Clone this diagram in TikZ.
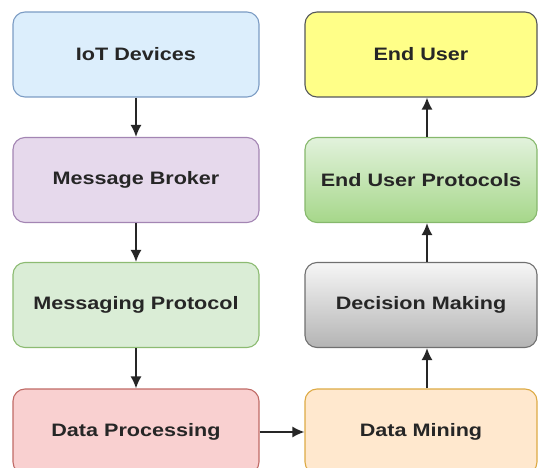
\documentclass[tikz,border=0pt]{standalone}
\usepackage{fontspec}
\newfontfamily\boxfont[FakeStretch=1.2]{Liberation Sans}
\usetikzlibrary{arrows.meta}

\definecolor{iotfill}{HTML}{DCEEFC}
\definecolor{iotdraw}{HTML}{7C9CC4}
\definecolor{brokerfill}{HTML}{E6D9EC}
\definecolor{brokerdraw}{HTML}{A385B3}
\definecolor{protofill}{HTML}{DAEDD6}
\definecolor{protodraw}{HTML}{8CBB72}
\definecolor{procfill}{HTML}{F9D0D0}
\definecolor{procdraw}{HTML}{C06A66}
\definecolor{minefill}{HTML}{FFE8CE}
\definecolor{minedraw}{HTML}{DDAA44}
\definecolor{userfill}{HTML}{FFFF88}
\definecolor{userdraw}{HTML}{55575A}
\definecolor{euptop}{HTML}{E2F2DC}
\definecolor{eupbot}{HTML}{A6D78A}
\definecolor{eupdraw}{HTML}{86B86C}
\definecolor{dectop}{HTML}{F6F6F6}
\definecolor{decbot}{HTML}{B4B4B4}
\definecolor{decdraw}{HTML}{707070}

\begin{document}
\begin{tikzpicture}[x=1pt,y=-1pt]
  % some styles
  \tikzset{
    stage/.style={
      rectangle,
      rounded corners=12pt,
      minimum height=85pt,
      inner sep=0pt,
      line width=1.1pt,
      text=black!85,
      font=\boxfont\fontsize{18}{20}\selectfont\bfseries
    }
  }
  \tikzset{leftstage/.style={stage,minimum width=246pt}}
  \tikzset{rightstage/.style={stage,minimum width=232pt}}
  \tikzset{flow/.style={-{Latex[length=12pt,width=11pt]},line width=1.6pt,draw=black!85}}

  \useasboundingbox (0,0) rectangle (539,468);
  \clip (0,0) rectangle (539,468);

  % left column, top to bottom
  \node[leftstage,fill=iotfill,draw=iotdraw] (iot) at (136,54.5) {IoT Devices};
  \node[leftstage,fill=brokerfill,draw=brokerdraw] (broker) at (136,180) {Message Broker};
  \node[leftstage,fill=protofill,draw=protodraw] (proto) at (136,305) {Messaging Protocol};
  \node[leftstage,fill=procfill,draw=procdraw] (proc) at (136,431.5) {Data Processing};

  % right column, bottom to top
  \node[rightstage,fill=minefill,draw=minedraw] (mine) at (421,431.5) {Data Mining};
  \node[rightstage,top color=dectop,bottom color=decbot,draw=decdraw] (decide) at (421,305) {Decision Making};
  \node[rightstage,top color=euptop,bottom color=eupbot,draw=eupdraw] (eup) at (421,180) {End User Protocols};
  \node[rightstage,fill=userfill,draw=userdraw] (user) at (421,54.5) {End User};

  \draw[flow] (iot) -- (broker);
  \draw[flow] (broker) -- (proto);
  \draw[flow] (proto) -- (proc);
  \draw[flow] (proc.east |- 0,432) -- (mine.west |- 0,432);
  \foreach \a/\b in {mine/decide,decide/eup,eup/user}
    \draw[flow] ([xshift=6pt]\a.north) -- ([xshift=6pt]\b.south);
\end{tikzpicture}
\end{document}
